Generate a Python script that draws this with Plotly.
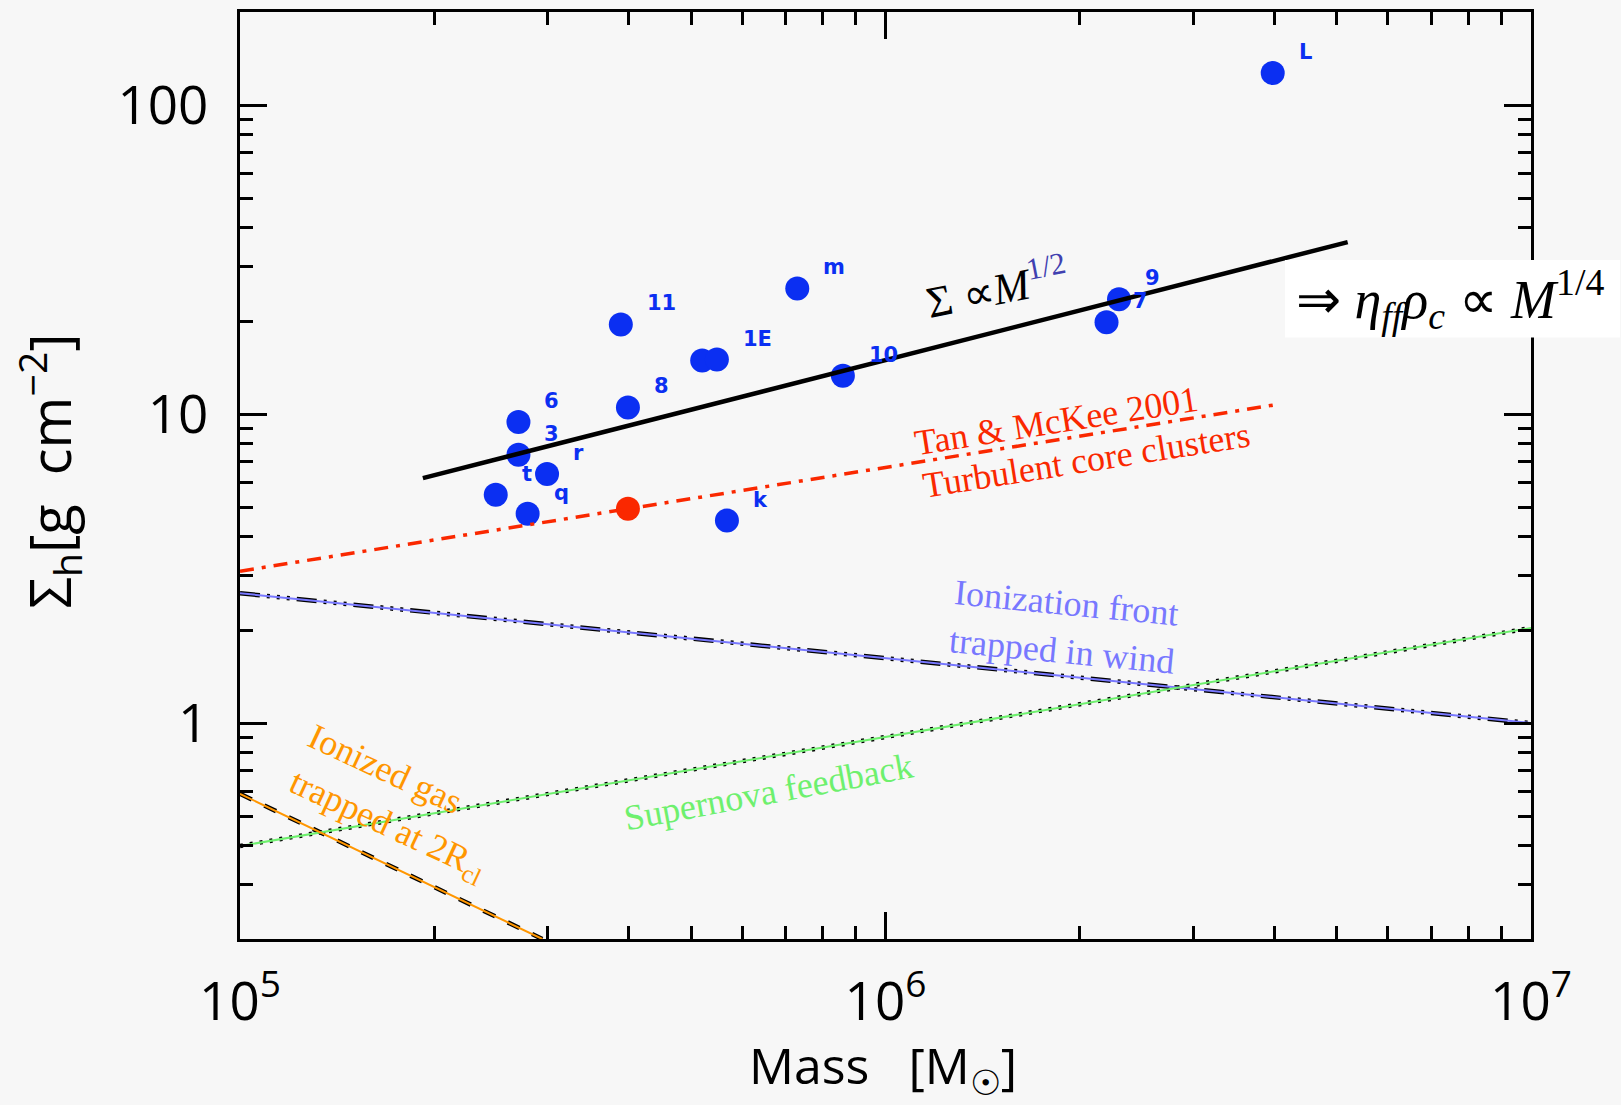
import numpy as np
import plotly.graph_objects as go

# ---- data ----
cluster_mass = [3.98e6, 7.30e5, 3.89e5, 5.20e5, 5.48e5, 3.99e5, 8.59e5, 2.70e5,
                2.70e5, 2.99e5, 2.49e5, 2.79e5, 5.68e5, 2.30e6, 2.20e6]
cluster_sigma = [127, 25.5, 19.5, 14.9, 15.0, 10.5, 13.3, 9.42,
                 7.38, 6.40, 5.48, 4.76, 4.52, 23.5, 19.8]
cluster_labels = ["L", "m", "11", "", "1E", "8", "10", "6",
                  "3", "r", "t", "q", "k", "9", "7"]

model_mass = [3.99e5]
model_sigma = [4.94]

fit_mass = [1.92e5, 5.2e6]          # Sigma ~ M^(1/2)
fit_sigma = [6.2, 36.0]
tan_mass = [1e5, 4.0e6]             # Tan & McKee 2001
tan_sigma = [3.1, 10.7]
wind_mass = [1e5, 1e7]              # ionization front trapped in wind
wind_sigma = [2.63, 1.0]
sn_mass = [1e5, 1e7]                # supernova feedback
sn_sigma = [0.40, 2.03]
ion_mass = [1e5, 2.94e5]            # ionized gas trapped at 2Rcl
ion_sigma = [0.59, 0.20]

x_ticks = [1e5, 1e6, 1e7]
x_ticktext = ["10<sup>5</sup>", "10<sup>6</sup>", "10<sup>7</sup>"]
y_ticks = [1, 10, 100]
y_ticktext = ["1", "10", "100"]

BLUE = "#0b2ff2"
RED = "#fa2800"
LBLUE = "#7878ff"
GREEN = "#6ef06e"
ORANGE = "#ff9600"
BG = "#f7f7f7"
SERIF = "Liberation Serif"
SANS = "Open Sans"

fig = go.Figure()

# clusters
fig.add_trace(go.Scatter(x=cluster_mass, y=cluster_sigma, mode="markers",
                         marker=dict(color=BLUE, size=24), showlegend=False))
fig.add_trace(go.Scatter(x=model_mass, y=model_sigma, mode="markers",
                         marker=dict(color=RED, size=24), showlegend=False))

# black patterned lines (under the coloured ones)
fig.add_trace(go.Scatter(x=wind_mass, y=wind_sigma, mode="lines",
                         line=dict(color="black", width=4.5,
                                   dash="20px,7px,3px,7px,3px,7px,3px,7px"),
                         showlegend=False))
fig.add_trace(go.Scatter(x=sn_mass, y=sn_sigma, mode="lines",
                         line=dict(color="black", width=4.5, dash="3px,7px"),
                         showlegend=False))
fig.add_trace(go.Scatter(x=ion_mass, y=ion_sigma, mode="lines",
                         line=dict(color="black", width=4.5, dash="13px,14px"),
                         showlegend=False))

# coloured model lines
fig.add_trace(go.Scatter(x=wind_mass, y=wind_sigma, mode="lines",
                         line=dict(color=LBLUE, width=2), showlegend=False))
fig.add_trace(go.Scatter(x=sn_mass, y=sn_sigma, mode="lines",
                         line=dict(color=GREEN, width=2), showlegend=False))
fig.add_trace(go.Scatter(x=ion_mass, y=ion_sigma, mode="lines",
                         line=dict(color=ORANGE, width=2), showlegend=False))

fig.add_trace(go.Scatter(x=tan_mass, y=tan_sigma, mode="lines",
                         line=dict(color=RED, width=3.5, dash="14px,8px,4px,8px"),
                         showlegend=False))
fig.add_trace(go.Scatter(x=fit_mass, y=fit_sigma, mode="lines",
                         line=dict(color="black", width=4.5), showlegend=False))

annotations = []
for m, s, lab in zip(cluster_mass, cluster_sigma, cluster_labels):
    if not lab:
        continue
    annotations.append(dict(x=np.log10(m), y=np.log10(s), xref="x", yref="y",
                            text="<b>%s</b>" % lab, showarrow=False,
                            xanchor="left", yanchor="middle", xshift=24, yshift=21,
                            font=dict(family="DejaVu Sans", size=21, color=BLUE)))


def txt(x, y, text, color, angle, size=36, family=SERIF):
    annotations.append(dict(x=np.log10(x), y=np.log10(y), xref="x", yref="y",
                            text=text, showarrow=False, textangle=angle,
                            xanchor="center", yanchor="middle",
                            font=dict(family=family, size=size, color=color)))


txt(1.49e6, 25.8, "Σ ∝<i>M</i><sup><span style='color:#4040b0'>1/2</span></sup>",
    "black", -11, size=44)
txt(1.84e6, 9.5, "Tan &amp; McKee 2001", RED, -9)
txt(2.05e6, 7.11, "Turbulent core clusters", RED, -9)
txt(1.91e6, 2.44, "Ionization front", LBLUE, 5.5)
txt(1.88e6, 1.71, "trapped in wind", LBLUE, 5.5)
txt(6.58e5, 0.60, "Supernova feedback", GREEN, -10.5)
txt(1.68e5, 0.711, "Ionized gas", ORANGE, 25)
txt(1.69e5, 0.462, "trapped at 2R<sub>cl</sub>", ORANGE, 25)

# boxed relation
annotations.append(dict(x=0.937, y=0.690, xref="paper", yref="paper",
                        text="⇒ <i>η</i><sub><i>ff</i></sub><i>ρ</i><sub><i>c</i></sub> ∝ <i>M</i><sup>1/4</sup>",
                        showarrow=False, xanchor="center", yanchor="middle",
                        font=dict(family=SERIF, size=54, color="black")))

# axis titles
annotations.append(dict(x=0.498, y=-0.139, xref="paper", yref="paper",
                        text="Mass&nbsp;&nbsp;&nbsp;[M<sub>☉</sub>]", showarrow=False,
                        xanchor="center", yanchor="middle",
                        font=dict(family=SANS, size=50, color="black")))
annotations.append(dict(x=-0.148, y=0.505, xref="paper", yref="paper",
                        text="Σ<sub>h</sub>[g&nbsp;&nbsp;cm<sup>−2</sup>]", showarrow=False,
                        textangle=-90, xanchor="center", yanchor="middle",
                        font=dict(family=SANS, size=56, color="black")))

shapes = [dict(type="rect", xref="paper", yref="paper",
               x0=0.8095, x1=1.069, y0=0.6488, y1=0.7325,
               fillcolor="white", line=dict(width=0), layer="above")]

x_minor = [d * 10 ** e for e in (5, 6) for d in range(2, 10)]
y_minor = [d * 10 ** e for e in (-1, 0, 1, 2) for d in range(2, 10)
           if 0.2 <= d * 10 ** e <= 200]

axis_common = dict(type="log", showline=True, linewidth=3, linecolor="black",
                   mirror="allticks", ticks="inside", ticklen=27, tickwidth=3,
                   tickcolor="black", showgrid=False, zeroline=False,
                   tickfont=dict(family=SANS, size=53, color="black"))

fig.update_xaxes(range=[5, 7], tickmode="array", tickvals=x_ticks,
                 ticktext=x_ticktext, ticklabelstandoff=14,
                 minor=dict(ticks="inside", ticklen=13, tickwidth=3,
                            tickcolor="black", tickmode="array",
                            tickvals=x_minor, showgrid=False),
                 **axis_common)
fig.update_yaxes(range=[np.log10(0.2), np.log10(200)], tickmode="array",
                 tickvals=y_ticks, ticktext=y_ticktext, ticklabelstandoff=18,
                 minor=dict(ticks="inside", ticklen=13, tickwidth=3,
                            tickcolor="black", tickmode="array",
                            tickvals=y_minor, showgrid=False),
                 **axis_common)

fig.update_layout(width=1621, height=1105,
                  margin=dict(l=240, r=90, t=9, b=166, pad=0),
                  paper_bgcolor=BG, plot_bgcolor=BG,
                  annotations=annotations, shapes=shapes, showlegend=False)

fig.write_html("out.html", config={"displayModeBar": False},
               post_script="document.body.style.margin='0';document.body.style.overflow='hidden';")
